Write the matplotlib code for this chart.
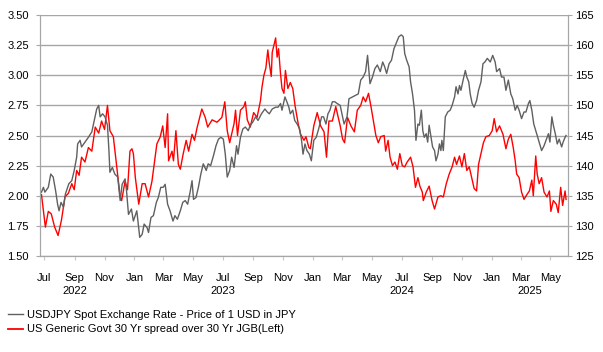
import matplotlib
matplotlib.use('Agg')
import matplotlib.pyplot as plt
import matplotlib.dates as mdates
from matplotlib.lines import Line2D
import numpy as np
import pandas as pd

plt.rcParams['font.family'] = ['Liberation Sans', 'DejaVu Sans']
plt.rcParams['font.size'] = 8

# US 30y minus JGB 30y spread (left axis)
spread_dates = [
    '2022-06-25', '2022-07-03', '2022-07-09', '2022-07-15', '2022-07-22', '2022-07-29',
    '2022-08-05', '2022-08-12', '2022-08-19', '2022-08-26', '2022-08-31', '2022-09-05',
    '2022-09-10', '2022-09-15', '2022-09-22', '2022-09-29', '2022-10-06', '2022-10-13',
    '2022-10-20', '2022-10-26', '2022-11-01', '2022-11-07', '2022-11-12', '2022-11-19',
    '2022-11-26', '2022-12-03', '2022-12-06', '2022-12-13', '2022-12-18', '2022-12-23',
    '2022-12-27', '2022-12-30', '2023-01-03', '2023-01-10', '2023-01-17', '2023-01-23',
    '2023-01-30', '2023-02-06', '2023-02-16', '2023-02-23', '2023-02-28', '2023-03-05',
    '2023-03-10', '2023-03-12', '2023-03-19', '2023-03-22', '2023-03-27', '2023-04-01',
    '2023-04-05', '2023-04-11', '2023-04-17', '2023-04-22', '2023-04-29', '2023-05-04',
    '2023-05-09', '2023-05-19', '2023-05-26', '2023-05-31', '2023-06-09', '2023-06-19',
    '2023-06-29', '2023-07-05', '2023-07-10', '2023-07-15', '2023-07-24', '2023-07-27',
    '2023-07-31', '2023-08-06', '2023-08-13', '2023-08-16', '2023-08-20', '2023-08-26',
    '2023-09-02', '2023-09-09', '2023-09-16', '2023-09-19', '2023-09-23', '2023-09-27',
    '2023-10-01', '2023-10-04', '2023-10-08', '2023-10-10', '2023-10-17', '2023-10-20',
    '2023-10-23', '2023-10-27', '2023-10-30', '2023-11-03', '2023-11-06', '2023-11-11',
    '2023-11-16', '2023-11-21', '2023-11-26', '2023-12-02', '2023-12-07', '2023-12-14',
    '2023-12-18', '2023-12-24', '2023-12-27', '2024-01-03', '2024-01-10', '2024-01-17',
    '2024-01-24', '2024-01-29', '2024-02-03', '2024-02-10', '2024-02-17', '2024-02-22',
    '2024-02-26', '2024-03-02', '2024-03-06', '2024-03-12', '2024-03-19', '2024-03-26',
    '2024-04-01', '2024-04-08', '2024-04-13', '2024-04-18', '2024-04-24', '2024-04-29',
    '2024-05-04', '2024-05-09', '2024-05-14', '2024-05-19', '2024-05-26', '2024-05-29',
    '2024-06-03', '2024-06-07', '2024-06-12', '2024-06-17', '2024-06-22', '2024-06-27',
    '2024-07-02', '2024-07-07', '2024-07-12', '2024-07-19', '2024-07-24', '2024-07-29',
    '2024-08-03', '2024-08-07', '2024-08-12', '2024-08-14', '2024-08-20', '2024-08-26',
    '2024-09-01', '2024-09-06', '2024-09-13', '2024-09-19', '2024-09-24', '2024-09-30',
    '2024-10-06', '2024-10-12', '2024-10-17', '2024-10-21', '2024-10-27', '2024-11-01',
    '2024-11-06', '2024-11-11', '2024-11-16', '2024-11-22', '2024-11-26', '2024-12-01',
    '2024-12-05', '2024-12-10', '2024-12-15', '2024-12-20', '2024-12-27', '2025-01-02',
    '2025-01-06', '2025-01-11', '2025-01-17', '2025-01-24', '2025-01-30', '2025-02-04',
    '2025-02-09', '2025-02-14', '2025-02-18', '2025-02-21', '2025-02-26', '2025-03-03',
    '2025-03-08', '2025-03-14', '2025-03-19', '2025-03-24', '2025-03-27', '2025-04-01',
    '2025-04-04', '2025-04-08', '2025-04-13', '2025-04-18', '2025-04-24', '2025-04-29',
    '2025-05-02', '2025-05-07', '2025-05-13', '2025-05-17', '2025-05-22', '2025-05-26',
    '2025-05-31', '2025-06-02']
spread = [
    2.01, 1.74, 1.87, 1.85, 1.74, 1.67,
    1.80, 1.99, 2.02, 2.10, 2.05, 2.21,
    2.17, 2.32, 2.28, 2.40, 2.37, 2.57,
    2.52, 2.62, 2.55, 2.75, 2.54, 2.49,
    2.24, 1.99, 1.96, 2.12, 2.05, 2.37,
    2.39, 2.35, 2.15, 1.93, 2.10, 2.10,
    1.99, 2.12, 2.43, 2.49, 2.58, 2.40,
    2.68, 2.29, 2.37, 2.29, 2.54, 2.26,
    2.22, 2.35, 2.46, 2.37, 2.51, 2.46,
    2.56, 2.72, 2.65, 2.57, 2.63, 2.61,
    2.65, 2.78, 2.54, 2.44, 2.60, 2.71,
    2.50, 2.71, 2.74, 2.78, 2.63, 2.57,
    2.69, 2.65, 2.79, 2.90, 3.00, 3.06,
    3.21, 3.10, 2.99, 3.19, 3.31, 3.15,
    3.22, 3.01, 2.89, 2.85, 3.04, 2.89,
    2.94, 2.89, 2.74, 2.60, 2.51, 2.46,
    2.49, 2.40, 2.39, 2.58, 2.69, 2.58,
    2.53, 2.32, 2.62, 2.62, 2.74, 2.65,
    2.58, 2.47, 2.44, 2.65, 2.58, 2.53,
    2.71, 2.75, 2.82, 2.78, 2.85, 2.74,
    2.62, 2.50, 2.44, 2.49, 2.50, 2.37,
    2.46, 2.32, 2.25, 2.28, 2.22, 2.35,
    2.25, 2.24, 2.28, 2.32, 2.24, 2.07,
    2.15, 2.08, 2.03, 1.96, 2.03, 2.08,
    1.96, 1.89, 1.99, 2.00, 1.99, 2.10,
    2.18, 2.24, 2.32, 2.26, 2.33, 2.24,
    2.35, 2.21, 2.24, 2.13, 2.06, 2.04,
    2.26, 2.35, 2.44, 2.49, 2.50, 2.54,
    2.64, 2.53, 2.58, 2.51, 2.39, 2.47,
    2.51, 2.40, 2.29, 2.18, 2.15, 2.03,
    1.97, 2.01, 2.04, 2.13, 2.00, 2.33,
    2.18, 2.10, 2.15, 2.03, 1.99, 2.04,
    1.87, 1.96, 1.93, 1.86, 2.07, 1.92,
    2.04, 1.97]

# USDJPY spot (right axis)
usdjpy_dates = [
    '2022-06-25', '2022-06-29', '2022-07-02', '2022-07-09', '2022-07-14', '2022-07-19',
    '2022-07-24', '2022-07-28', '2022-07-31', '2022-08-04', '2022-08-09', '2022-08-13',
    '2022-08-20', '2022-08-26', '2022-08-31', '2022-09-05', '2022-09-07', '2022-09-12',
    '2022-09-15', '2022-09-22', '2022-09-29', '2022-10-06', '2022-10-11', '2022-10-16',
    '2022-10-20', '2022-10-23', '2022-10-28', '2022-11-02', '2022-11-07', '2022-11-10',
    '2022-11-12', '2022-11-17', '2022-11-22', '2022-11-28', '2022-12-03', '2022-12-07',
    '2022-12-13', '2022-12-16', '2022-12-20', '2022-12-26', '2022-12-30', '2023-01-06',
    '2023-01-12', '2023-01-17', '2023-01-21', '2023-01-27', '2023-01-30', '2023-02-04',
    '2023-02-09', '2023-02-15', '2023-02-19', '2023-02-24', '2023-03-01', '2023-03-05',
    '2023-03-10', '2023-03-15', '2023-03-21', '2023-03-25', '2023-03-30', '2023-04-05',
    '2023-04-10', '2023-04-15', '2023-04-20', '2023-04-25', '2023-04-29', '2023-05-02',
    '2023-05-07', '2023-05-12', '2023-05-17', '2023-05-22', '2023-05-28', '2023-06-01',
    '2023-06-06', '2023-06-12', '2023-06-17', '2023-06-22', '2023-06-27', '2023-07-02',
    '2023-07-06', '2023-07-10', '2023-07-15', '2023-07-19', '2023-07-24', '2023-07-29',
    '2023-08-01', '2023-08-06', '2023-08-11', '2023-08-16', '2023-08-22', '2023-08-26',
    '2023-08-31', '2023-09-06', '2023-09-11', '2023-09-18', '2023-09-25', '2023-09-30',
    '2023-10-04', '2023-10-10', '2023-10-17', '2023-10-22', '2023-10-27', '2023-10-30',
    '2023-11-05', '2023-11-08', '2023-11-13', '2023-11-16', '2023-11-21', '2023-11-25',
    '2023-11-30', '2023-12-05', '2023-12-09', '2023-12-12', '2023-12-16', '2023-12-20',
    '2023-12-25', '2023-12-29', '2024-01-03', '2024-01-08', '2024-01-13', '2024-01-19',
    '2024-01-23', '2024-01-28', '2024-02-01', '2024-02-05', '2024-02-10', '2024-02-15',
    '2024-02-20', '2024-02-26', '2024-03-02', '2024-03-05', '2024-03-11', '2024-03-15',
    '2024-03-22', '2024-03-29', '2024-04-03', '2024-04-08', '2024-04-13', '2024-04-18',
    '2024-04-22', '2024-04-24', '2024-04-27', '2024-05-02', '2024-05-07', '2024-05-12',
    '2024-05-18', '2024-05-23', '2024-05-27', '2024-05-31', '2024-06-05', '2024-06-10',
    '2024-06-15', '2024-06-21', '2024-06-25', '2024-06-30', '2024-07-04', '2024-07-07',
    '2024-07-11', '2024-07-16', '2024-07-19', '2024-07-23', '2024-07-27', '2024-07-30',
    '2024-08-03', '2024-08-06', '2024-08-10', '2024-08-13', '2024-08-16', '2024-08-20',
    '2024-08-23', '2024-08-26', '2024-08-30', '2024-09-02', '2024-09-06', '2024-09-09',
    '2024-09-13', '2024-09-16', '2024-09-19', '2024-09-21', '2024-09-24', '2024-09-28',
    '2024-10-03', '2024-10-08', '2024-10-12', '2024-10-17', '2024-10-20', '2024-10-24',
    '2024-10-27', '2024-10-30', '2024-11-04', '2024-11-08', '2024-11-11', '2024-11-15',
    '2024-11-18', '2024-11-22', '2024-11-26', '2024-12-01', '2024-12-05', '2024-12-10',
    '2024-12-14', '2024-12-18', '2024-12-23', '2024-12-29', '2025-01-03', '2025-01-08',
    '2025-01-11', '2025-01-17', '2025-01-21', '2025-01-26', '2025-01-30', '2025-02-04',
    '2025-02-09', '2025-02-13', '2025-02-18', '2025-02-22', '2025-02-26', '2025-03-03',
    '2025-03-08', '2025-03-12', '2025-03-17', '2025-03-20', '2025-03-24', '2025-03-28',
    '2025-03-31', '2025-04-04', '2025-04-08', '2025-04-13', '2025-04-18', '2025-04-22',
    '2025-04-27', '2025-04-30', '2025-05-04', '2025-05-07', '2025-05-11', '2025-05-15',
    '2025-05-19', '2025-05-24', '2025-05-27', '2025-05-31', '2025-06-02']
usdjpy = [
    135.6, 136.4, 135.6, 136.4, 138.6, 138.1,
    135.8, 133.6, 132.5, 133.9, 133.1, 135.3,
    137.0, 137.5, 139.2, 141.4, 143.6, 144.2,
    143.1, 143.9, 144.7, 145.6, 147.5, 149.4,
    150.0, 148.1, 148.6, 148.1, 146.7, 142.5,
    138.9, 139.7, 138.6, 138.1, 134.2, 136.9,
    137.8, 135.8, 131.9, 132.8, 130.8, 132.5,
    128.1, 128.6, 130.3, 129.7, 128.9, 131.4,
    131.7, 133.9, 134.7, 136.4, 136.4, 136.9,
    133.6, 132.5, 130.8, 131.7, 131.1, 132.5,
    133.9, 134.2, 133.6, 135.6, 137.5, 134.4,
    134.7, 136.4, 138.6, 140.3, 139.2, 140.3,
    140.0, 141.7, 143.3, 144.4, 144.7, 144.4,
    141.9, 138.1, 139.2, 141.4, 139.7, 143.3,
    141.9, 144.7, 146.1, 146.4, 145.8, 146.7,
    147.2, 148.1, 147.5, 148.6, 149.4, 148.9,
    148.6, 149.4, 149.7, 149.7, 150.3, 149.2,
    151.4, 150.8, 149.7, 148.6, 149.2, 147.5,
    146.9, 146.1, 144.2, 141.9, 143.6, 142.5,
    141.9, 140.8, 144.2, 144.7, 146.1, 148.1,
    148.1, 146.9, 148.6, 149.2, 150.6, 150.6,
    150.3, 150.0, 148.1, 146.9, 148.1, 151.1,
    151.4, 151.7, 151.9, 154.2, 154.7, 155.6,
    158.3, 156.4, 153.6, 154.7, 156.1, 156.7,
    155.6, 157.2, 156.4, 155.3, 156.9, 157.5,
    159.4, 160.6, 161.4, 161.7, 161.4, 158.6,
    157.5, 156.4, 153.9, 151.9, 149.2, 144.2,
    146.9, 146.7, 149.2, 145.8, 144.7, 145.3,
    143.9, 146.7, 144.7, 143.1, 142.5, 140.8,
    141.9, 143.6, 142.5, 144.2, 142.5, 148.1,
    148.9, 149.2, 150.0, 151.4, 153.1, 151.9,
    153.3, 152.5, 154.4, 155.8, 154.7, 153.9,
    151.9, 150.3, 149.7, 150.8, 152.5, 153.9,
    156.9, 157.2, 157.8, 157.2, 158.3, 157.2,
    155.6, 156.1, 154.7, 154.7, 152.5, 154.2,
    151.9, 151.1, 149.2, 150.0, 149.2, 147.8,
    148.9, 148.9, 150.3, 150.8, 149.2, 146.9,
    146.1, 145.0, 143.9, 142.5, 143.3, 144.2,
    145.3, 143.9, 148.1, 146.7, 145.3, 143.6,
    144.4, 143.1, 143.9, 144.7, 145.0]

year_labels = ['2022', '2023', '2024', '2025']
year_label_dates = ['2022-09-01', '2023-07-01', '2024-07-01', '2025-03-20']

legend_labels = ['USDJPY Spot Exchange Rate - Price of 1 USD in JPY',
                 'US Generic Govt 30 Yr spread over 30 Yr JGB(Left)']

grey = '#a6a6a6'
red = '#ff0000'
dark = '#606060'

fig = plt.figure(figsize=(6.03, 3.52), dpi=100)
ax = fig.add_axes([40 / 603, 96 / 352, 528 / 603, 241 / 352])
ax2 = ax.twinx()

ax.plot(pd.to_datetime(spread_dates), spread, color=red, lw=1.0)
ax2.plot(pd.to_datetime(usdjpy_dates), usdjpy, color=dark, lw=1.0)

ax.set_ylim(1.5, 3.5)
ax.set_yticks(np.arange(1.5, 3.51, 0.25))
ax.yaxis.set_major_formatter('{x:.2f}')
ax2.set_ylim(125, 165)
ax2.set_yticks(range(125, 166, 5))
ax.grid(axis='y', color=grey, lw=1.0)
ax.set_axisbelow(True)

ax.set_xlim(pd.Timestamp('2022-06-22'), pd.Timestamp('2025-06-06'))
ax.xaxis.set_major_locator(mdates.MonthLocator(bymonth=[1, 3, 5, 7, 9, 11]))
ax.xaxis.set_major_formatter(mdates.DateFormatter('%b'))
ax.xaxis.set_minor_locator(mdates.MonthLocator(bymonth=[1]))
ax.tick_params(axis='x', which='major', length=3, color='#c8c8c8', pad=9, labelsize=8)
ax.tick_params(axis='x', which='minor', length=7, color=grey)
ax.tick_params(axis='y', length=3, color=grey, pad=5, labelsize=8)
ax2.tick_params(axis='y', length=3, color=grey, pad=2, labelsize=8)

for a in (ax, ax2):
    a.spines['top'].set_visible(False)
    for s in ('left', 'right', 'bottom'):
        a.spines[s].set_color(grey)

for lab, d in zip(year_labels, year_label_dates):
    ax.annotate(lab, xy=(pd.Timestamp(d), 0), xycoords=('data', 'axes fraction'),
                xytext=(0, -25.5), textcoords='offset points', ha='center', va='center',
                fontsize=8)

handles = [Line2D([], [], color=dark, lw=1.0), Line2D([], [], color=red, lw=1.3)]
fig.legend(handles, legend_labels, loc='upper left', bbox_to_anchor=(0.014, 0.12),
           frameon=False, fontsize=8, handlelength=1.3, handletextpad=0.4,
           labelspacing=0.42, borderpad=0, borderaxespad=0)

fig.savefig('out.png', dpi=100)
